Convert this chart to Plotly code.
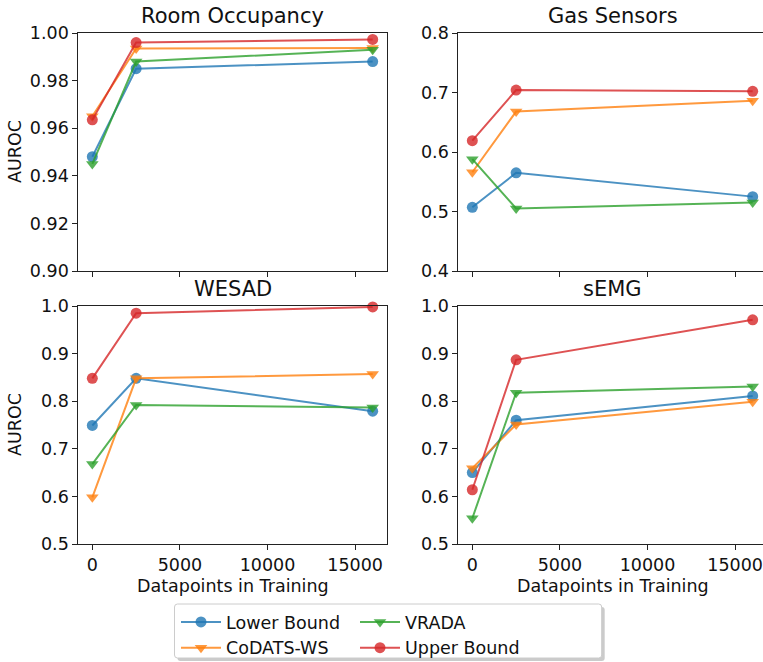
import plotly.graph_objects as go

# Training set sizes (x axis) shared by every panel
datapoints = [0, 2500, 16000]

methods = ["Lower Bound", "CoDATS-WS", "VRADA", "Upper Bound"]

# AUROC per dataset, one list per method (same order as `methods`)
room_lower = [0.948, 0.985, 0.988]
room_codats = [0.965, 0.9935, 0.9937]
room_vrada = [0.945, 0.988, 0.993]
room_upper = [0.9635, 0.996, 0.9973]

gas_lower = [0.507, 0.565, 0.525]
gas_codats = [0.566, 0.668, 0.686]
gas_vrada = [0.588, 0.505, 0.515]
gas_upper = [0.619, 0.704, 0.702]

wesad_lower = [0.749, 0.848, 0.779]
wesad_codats = [0.598, 0.848, 0.857]
wesad_vrada = [0.668, 0.792, 0.787]
wesad_upper = [0.848, 0.985, 0.998]

semg_lower = [0.650, 0.760, 0.811]
semg_codats = [0.659, 0.751, 0.799]
semg_vrada = [0.554, 0.818, 0.831]
semg_upper = [0.614, 0.887, 0.971]

panel_titles = ["Room Occupancy", "Gas Sensors", "WESAD", "sEMG"]
panel_data = [
    [room_lower, room_codats, room_vrada, room_upper],
    [gas_lower, gas_codats, gas_vrada, gas_upper],
    [wesad_lower, wesad_codats, wesad_vrada, wesad_upper],
    [semg_lower, semg_codats, semg_vrada, semg_upper],
]
panel_yranges = [[0.90, 1.00], [0.4, 0.8], [0.5, 1.0], [0.5, 1.0]]
panel_ydtick = [0.02, 0.1, 0.1, 0.1]
panel_yfmt = [".2f", ".1f", ".1f", ".1f"]
x_ticks = [0, 5000, 10000, 15000]

W, H = 763, 662
colors = ["31,119,180", "255,127,14", "44,160,44", "214,39,40"]
symbols = ["circle", "triangle-down", "triangle-down", "circle"]
# legend placement: two columns -> two legends
legend_of = ["legend", "legend", "legend2", "legend2"]

FONT = "DejaVu Sans"
FS = 17.5
TITLE_FS = 21

def px_x(p):
    return p / W

def px_y(p):
    return 1 - p / H

# panel domains (left, right, top, bottom in pixels)
boxes = [
    (78.3, 386.7, 33, 271),
    (458.3, 763, 33, 271),
    (78.3, 386.7, 306, 544),
    (458.3, 763, 306, 544),
]
full_width = 308.4  # pixel width of a complete panel
x_span = 17600.0

fig = go.Figure()
layout = dict(
    width=W, height=H,
    margin=dict(l=0, r=0, t=0, b=0, autoexpand=False),
    paper_bgcolor="white", plot_bgcolor="white",
    font=dict(family=FONT, size=FS, color="#111"),
    showlegend=True,
    annotations=[], shapes=[],
)

for i, (title, series) in enumerate(zip(panel_titles, panel_data)):
    n = "" if i == 0 else str(i + 1)
    xa, ya = "x" + n, "y" + n
    left, right, top, bottom = boxes[i]
    xmin = -800.0
    xmax = xmin + (right - left) / full_width * x_span
    for k, vals in enumerate(series):
        fig.add_trace(go.Scatter(
            x=datapoints, y=vals, mode="lines+markers",
            name=methods[k],
            line=dict(color=f"rgba({colors[k]},0.8)", width=2),
            marker=dict(symbol=symbols[k], size=11,
                        color=f"rgba({colors[k]},0.8)", line=dict(width=0)),
            xaxis=xa, yaxis=ya,
            legend=legend_of[k],
            showlegend=(i == 0),
            cliponaxis=False,
        ))
    bottom_row = i >= 2
    layout["xaxis" + n] = dict(
        domain=[px_x(left), min(1.0, px_x(right))],
        range=[xmin, xmax], anchor=ya,
        tickvals=x_ticks, ticktext=[str(v) for v in x_ticks],
        showticklabels=bottom_row,
        ticks="outside", ticklen=5, tickwidth=1, tickcolor="#222",
        ticklabelstandoff=0,
        showline=True, linecolor="#222", linewidth=1, mirror=True,
        showgrid=False, zeroline=False, automargin=False,
        tickfont=dict(family=FONT, size=FS, color="#111"),
    )
    ymin, ymax = panel_yranges[i]
    layout["yaxis" + n] = dict(
        domain=[px_y(bottom), px_y(top)],
        range=[ymin, ymax], anchor=xa,
        dtick=panel_ydtick[i], tick0=ymin, tickformat=panel_yfmt[i],
        ticks="outside", ticklen=5, tickwidth=1, tickcolor="#222",
        showline=True, linecolor="#222", linewidth=1, mirror=True,
        showgrid=False, zeroline=False, automargin=False,
        tickfont=dict(family=FONT, size=FS, color="#111"),
    )
    # panel title centred over the full panel width
    cx = left + full_width / 2
    layout["annotations"].append(dict(
        text=title, xref="paper", yref="paper",
        x=px_x(cx), y=px_y(top), xanchor="center", yanchor="bottom",
        yshift=3, showarrow=False,
        font=dict(family=FONT, size=TITLE_FS, color="#111"),
    ))
    if i % 2 == 0:
        layout["annotations"].append(dict(
            text="AUROC", xref="paper", yref="paper",
            x=px_x(15), y=px_y((top + bottom) / 2),
            xanchor="center", yanchor="middle", textangle=-90,
            showarrow=False, font=dict(family=FONT, size=FS, color="#111"),
        ))
    if bottom_row:
        layout["annotations"].append(dict(
            text="Datapoints in Training", xref="paper", yref="paper",
            x=px_x(cx), y=px_y(586), xanchor="center", yanchor="middle",
            showarrow=False, font=dict(family=FONT, size=FS, color="#111"),
        ))

# legend frame with a drop shadow
lx0, lx1, ly0, ly1 = 174.5, 601.7, 604, 658
def rounded(x0, y0, x1, y1, r=3):
    return (f"M {px_x(x0 + r)},{px_y(y0)} L {px_x(x1 - r)},{px_y(y0)} "
            f"Q {px_x(x1)},{px_y(y0)} {px_x(x1)},{px_y(y0 + r)} "
            f"L {px_x(x1)},{px_y(y1 - r)} Q {px_x(x1)},{px_y(y1)} {px_x(x1 - r)},{px_y(y1)} "
            f"L {px_x(x0 + r)},{px_y(y1)} Q {px_x(x0)},{px_y(y1)} {px_x(x0)},{px_y(y1 - r)} "
            f"L {px_x(x0)},{px_y(y0 + r)} Q {px_x(x0)},{px_y(y0)} {px_x(x0 + r)},{px_y(y0)} Z")
layout["shapes"].append(dict(type="path", xref="paper", yref="paper",
                             path=rounded(lx0 + 3, ly0 + 3, lx1 + 3, ly1 + 3),
                             fillcolor="rgba(160,160,160,0.55)", line=dict(width=0)))
layout["shapes"].append(dict(type="path", xref="paper", yref="paper",
                             path=rounded(lx0, ly0, lx1, ly1),
                             fillcolor="white", line=dict(color="#cccccc", width=1)))

legend_style = dict(
    orientation="v", xanchor="left", yanchor="top",
    xref="container", yref="container",
    bgcolor="rgba(0,0,0,0)", borderwidth=0,
    font=dict(family=FONT, size=FS, color="#111"),
    itemwidth=40, tracegroupgap=0,
)
layout["legend"] = dict(x=px_x(176), y=px_y(604), **legend_style)
layout["legend2"] = dict(x=px_x(355), y=px_y(604), **legend_style)

fig.update_layout(**layout)
fig.write_html("out.html")
